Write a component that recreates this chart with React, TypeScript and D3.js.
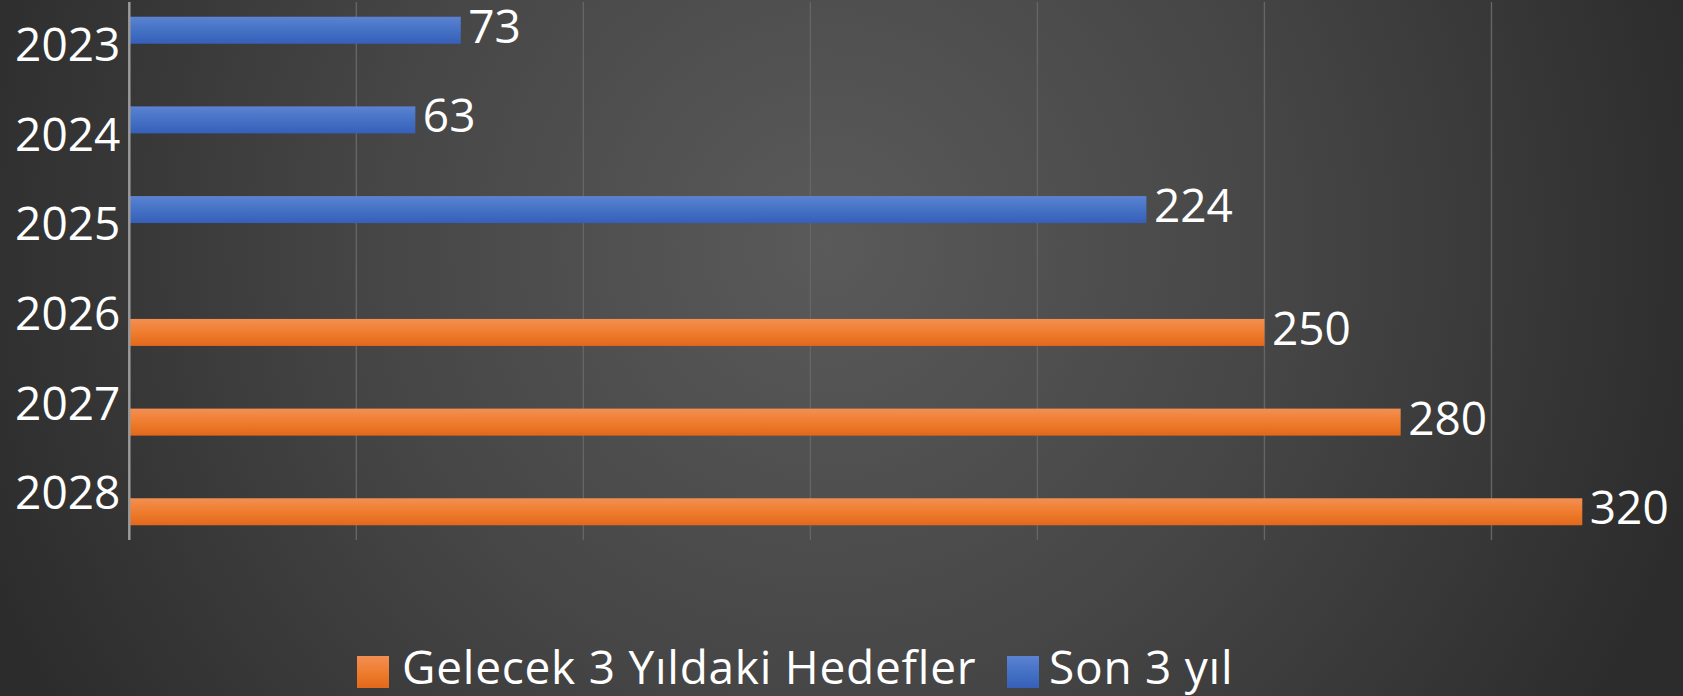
import React from "react";
import * as d3 from "d3";

const categories = ["2023", "2024", "2025", "2026", "2027", "2028"];
const seriesNames = ["Gelecek 3 Yıldaki Hedefler", "Son 3 yıl"];
const futureTargets: (number | null)[] = [null, null, null, 250, 280, 320];
const lastThreeYears: (number | null)[] = [73, 63, 224, null, null, null];
const xTicks = [0, 50, 100, 150, 200, 250, 300];

const W = 1683;
const H = 696;
const FONT = "'Open Sans', 'Noto Sans', sans-serif";

export default function App() {
  const x = d3.scaleLinear().domain([0, 350]).range([129.3, 1718.5]);
  const y0 = d3.scaleBand<string>().domain(categories).range([2, 540]).padding(0);
  const bw = y0.bandwidth();
  // cluster of two sub-bars centred in each category: blue above, orange below
  const clusterH = 60.2;
  const y1 = d3
    .scaleBand<string>()
    .domain(["Son 3 yıl", "Gelecek 3 Yıldaki Hedefler"])
    .range([(bw - clusterH) / 2, (bw + clusterH) / 2])
    .paddingInner(0.187)
    .paddingOuter(0);

  const series = [
    { name: seriesNames[0], values: futureTargets, grad: "gOrange" },
    { name: seriesNames[1], values: lastThreeYears, grad: "gBlue" },
  ];

  return (
    <svg
      width={W}
      height={H}
      style={{ position: "absolute", left: 0, top: 0, display: "block" }}
    >
      <defs>
        <radialGradient id="bg" gradientUnits="userSpaceOnUse" cx={826} cy={245} r={900}>
          <stop offset="0" stopColor="#5a5a5a" />
          <stop offset="0.5" stopColor="#464646" />
          <stop offset="1" stopColor="#2c2c2c" />
        </radialGradient>
        <linearGradient id="gBlue" x1="0" y1="0" x2="0" y2="1">
          <stop offset="0" stopColor="#5c82d3" />
          <stop offset="0.5" stopColor="#4472c4" />
          <stop offset="1" stopColor="#365fb9" />
        </linearGradient>
        <linearGradient id="gOrange" x1="0" y1="0" x2="0" y2="1">
          <stop offset="0" stopColor="#f38f52" />
          <stop offset="0.5" stopColor="#ef7d2f" />
          <stop offset="1" stopColor="#e2681a" />
        </linearGradient>
      </defs>
      <rect x={0} y={0} width={W} height={H} fill="url(#bg)" />

      {/* gridlines */}
      {xTicks.slice(1).map((t) => (
        <line
          key={t}
          x1={x(t)}
          x2={x(t)}
          y1={2}
          y2={540}
          stroke="#656565"
          strokeWidth={1.4}
        />
      ))}

      {/* bars */}
      {series.map((s) =>
        s.values.map((v, i) =>
          v == null ? null : (
            <rect
              key={s.name + i}
              x={x(0)}
              y={(y0(categories[i]) as number) + (y1(s.name) as number)}
              width={x(v) - x(0)}
              height={y1.bandwidth()}
              fill={`url(#${s.grad})`}
            />
          )
        )
      )}

      {/* axis line */}
      <line x1={x(0)} x2={x(0)} y1={2} y2={540} stroke="#9a9a9a" strokeWidth={2.5} />

      {/* category labels */}
      {categories.map((c) => (
        <text
          key={c}
          x={x(0) - 9}
          y={(y0(c) as number) + bw / 2 + 14}
          textAnchor="end"
          fill="#ffffff"
          fontFamily={FONT}
          fontSize={46}
        >
          {c}
        </text>
      ))}

      {/* value labels */}
      {series.map((s) =>
        s.values.map((v, i) =>
          v == null ? null : (
            <text
              key={"l" + s.name + i}
              x={x(v) + 7.5}
              y={(y0(categories[i]) as number) + (y1(s.name) as number) + y1.bandwidth() / 2 + 12.5}
              fill="#ffffff"
              fontFamily={FONT}
              fontSize={46}
            >
              {v}
            </text>
          )
        )
      )}

      {/* legend */}
      <g>
        <rect x={357} y={656} width={32} height={32} fill="url(#gOrange)" />
        <text x={402} y={684} fill="#ffffff" fontFamily={FONT} fontSize={46} letterSpacing={0.75}>
          {seriesNames[0]}
        </text>
        <rect x={1007} y={656} width={32} height={32} fill="url(#gBlue)" />
        <text x={1049} y={684} fill="#ffffff" fontFamily={FONT} fontSize={46} letterSpacing={0.75}>
          {seriesNames[1]}
        </text>
      </g>
    </svg>
  );
}
